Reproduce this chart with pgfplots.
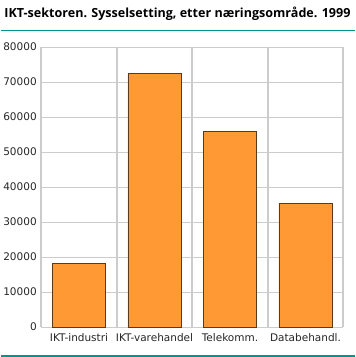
\documentclass[border=0pt]{standalone}
\usepackage{pgfplots}
\pgfplotsset{compat=1.18}
\usepackage{fontspec}
\setmainfont{DejaVu Sans}
\newfontfamily\titlefont{Open Sans}
\definecolor{barfill}{RGB}{255,153,51}
\definecolor{baredge}{RGB}{90,58,26}
\definecolor{gridc}{RGB}{204,204,204}
\definecolor{teal}{RGB}{0,150,136}
\begin{document}
\begin{tikzpicture}
\begin{axis}[
  scale only axis,
  width=302bp, height=280bp,
  xmin=0.5, xmax=4.5,
  ymin=0, ymax=80000,
  ytick={0,10000,...,80000},
  xtick={1,2,3,4},
  xticklabels={IKT-industri,IKT-varehandel,Telekomm.,Databehandl.},
  minor xtick={1.5,2.5,3.5},
  major tick length=0pt, minor tick length=0pt,
  ymajorgrids, xminorgrids,
  major grid style={gridc, line width=0.8bp},
  minor grid style={gridc, line width=1.8bp},
  axis line style={draw=none},
  /pgf/number format/assume math mode=true,
  /pgf/number format/1000 sep={},
  scaled y ticks=false,
  tick label style={font=\fontsize{10.5bp}{12bp}\selectfont, text=black!85},
  yticklabel style={xshift=-1bp},
  xticklabel style={yshift=-3bp},
  ybar, bar width=53bp,
  clip=false,
]
\addplot[fill=barfill, draw=baredge, line width=0.8bp] coordinates {(1,18100) (2,72500) (3,55900) (4,35400)};
\draw[gridc, line width=1.8bp] (rel axis cs:0,0) -- (rel axis cs:0,1);
\draw[gridc, line width=1.8bp] (rel axis cs:1,0) -- (rel axis cs:1,1);
\coordinate (O) at (rel axis cs:0,0);
\end{axis}
\path[use as bounding box] ([xshift=-40bp,yshift=-30bp]O) rectangle ([xshift=314bp,yshift=327bp]O);
\node[anchor=base west, inner sep=0pt] at ([xshift=-37bp,yshift=309bp]O) {\resizebox{346bp}{!}{\titlefont\bfseries\fontsize{12bp}{14bp}\selectfont IKT-sektoren. Sysselsetting, etter næringsområde. 1999}};
\draw[teal, line width=1bp] ([xshift=-40bp,yshift=296bp]O) -- ([xshift=314bp,yshift=296bp]O);
\draw[teal, line width=1.5bp] ([xshift=-40bp,yshift=-29bp]O) -- ([xshift=314bp,yshift=-29bp]O);
\end{tikzpicture}
\end{document}
